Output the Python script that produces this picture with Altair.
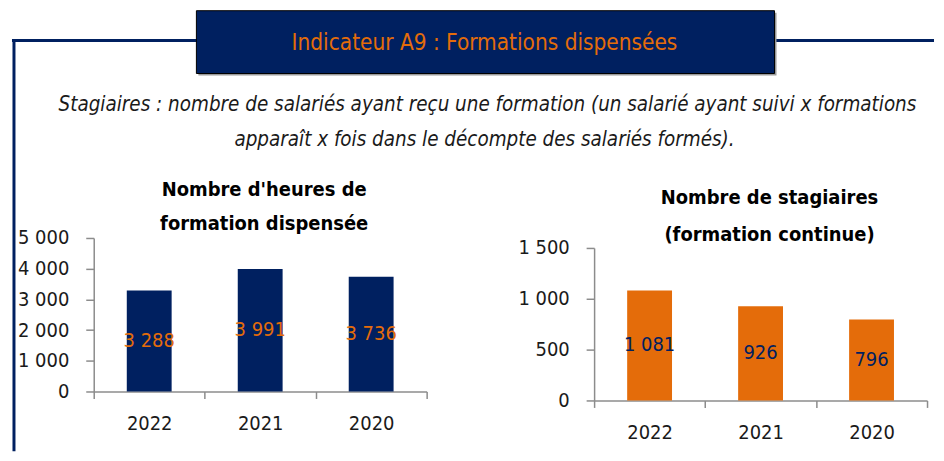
import altair as alt
import pandas as pd

# ---- data ----
years = ["2022", "2021", "2020"]
heures = [3288, 3991, 3736]
stagiaires = [1081, 926, 796]
heures_ticks = [0, 1000, 2000, 3000, 4000, 5000]
stag_ticks = [0, 500, 1000, 1500]

main_title = "Indicateur A9 : Formations dispensées"
subtitle_1 = "Stagiaires : nombre de salariés ayant reçu une formation (un salarié ayant suivi x formations"
subtitle_2 = "apparaît x fois dans le décompte des salariés formés)."
left_title = ["Nombre d'heures de", "formation dispensée"]
right_title = ["Nombre de stagiaires", "(formation continue)"]

NAVY = "#002060"
ORANGE = "#E46C0A"
GRAY = "#8C8C8C"
TXT = "#1a1a1a"
FONT = "DejaVu Sans Condensed, Liberation Sans Narrow, DejaVu Sans, sans-serif"

SPACE_FMT = "replace(format(datum.value, ','), ',', ' ')"
d0 = pd.DataFrame({"k": [0]})


def text_at(txt, x, y, size, **kw):
    return alt.Chart(d0).mark_text(
        font=FONT, fontSize=size, baseline="middle", align="center", **kw
    ).encode(x=alt.value(x), y=alt.value(y), text=alt.value(txt))


def panel(values, ticks, ymax, bar_color, label_color, title, height, yrange, title_x, title_y):
    df = pd.DataFrame({"year": years, "value": values})
    base = alt.Chart(df)
    scale_kw = dict(domain=[0, ymax], nice=False, zero=True)
    if yrange is not None:
        scale_kw["range"] = yrange
    yscale = alt.Scale(**scale_kw)
    yaxis = alt.Axis(
        title=None, values=ticks, grid=False, labelExpr=SPACE_FMT,
        labelFont=FONT, labelFontSize=20, labelColor=TXT, labelPadding=17,
        tickSize=8, tickColor=GRAY, tickWidth=1.5, domainColor=GRAY, domainWidth=1.5,
    )
    xenc = alt.X(
        "year:N", sort=years,
        scale=alt.Scale(paddingInner=0, paddingOuter=0),
        axis=alt.Axis(
            title=None, labelAngle=0, tickBand="extent", labelFont=FONT,
            labelFontSize=20, labelColor=TXT, labelPadding=15, tickSize=7,
            tickColor=GRAY, tickWidth=1.5, domainColor=GRAY, domainWidth=1.5,
        ),
    )
    bars = base.mark_bar(size=45, color=bar_color).encode(
        x=xenc, y=alt.Y("value:Q", scale=yscale, axis=yaxis)
    )
    labels = base.transform_calculate(
        mid="datum.value / 2", label=SPACE_FMT
    ).mark_text(color=label_color, font=FONT, fontSize=20, baseline="middle").encode(
        x=xenc, y=alt.Y("mid:Q", scale=yscale, axis=yaxis), text="label:N"
    )
    t1 = text_at(title[0], title_x, title_y[0], 20, fontWeight="bold", color="black")
    t2 = text_at(title[1], title_x, title_y[1], 20, fontWeight="bold", color="black")
    return alt.layer(bars, labels, t1, t2).properties(width=334, height=height)


left = panel(heures, heures_ticks, 5000, NAVY, ORANGE, left_title, 154, None, 171, [-48, -14])
right = panel(stagiaires, stag_ticks, 1500, ORANGE, NAVY, right_title, 163, [163, 10], 176, [-40, -3])

# ---- header decorations (drawn relative to the left panel) ----
hline = alt.Chart(d0).mark_rule(color=NAVY, strokeWidth=3).encode(
    x=alt.value(-82), x2=alt.value(843), y=alt.value(-198)
)
vline = alt.Chart(d0).mark_rule(color=NAVY, strokeWidth=3).encode(
    x=alt.value(-80), y=alt.value(-199), y2=alt.value(214)
)
shadow = alt.Chart(d0).mark_rect(fill="#9a9a9a").encode(
    x=alt.value(105), x2=alt.value(685), y=alt.value(-226), y2=alt.value(-163)
)
box = alt.Chart(d0).mark_rect(fill=NAVY, stroke="black", strokeWidth=1).encode(
    x=alt.value(103), x2=alt.value(683), y=alt.value(-228), y2=alt.value(-165)
)
ttl = text_at(main_title, 392, -196, 22.5, color=ORANGE)
sub1 = text_at(subtitle_1, 395, -133, 20.5, fontStyle="italic", color=TXT)
sub2 = text_at(subtitle_2, 392, -98, 20.5, fontStyle="italic", color=TXT)

left_full = alt.layer(hline, vline, shadow, box, ttl, sub1, sub2, left)

chart = alt.hconcat(left_full, right, spacing=168, bounds="flush").properties(
    padding={"left": 2, "top": 1, "right": 0, "bottom": 0},
    background="white",
).configure_view(stroke=None)

chart.save("out.html", embed_options={"renderer": "svg", "actions": False})
